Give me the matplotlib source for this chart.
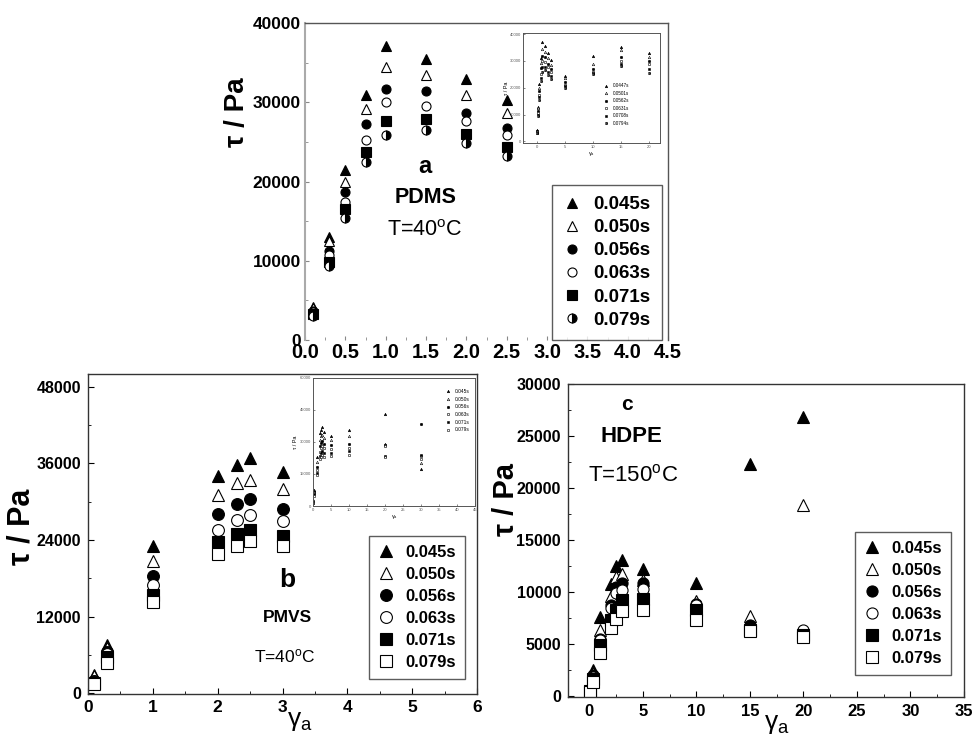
import matplotlib
matplotlib.use("Agg")
import matplotlib.pyplot as plt
from matplotlib.ticker import MultipleLocator, FixedLocator

plt.rcParams['font.family'] = ['Liberation Sans', 'DejaVu Sans']
plt.rcParams['mathtext.fontset'] = 'custom'
plt.rcParams['mathtext.rm'] = 'Liberation Sans'
plt.rcParams['mathtext.it'] = 'Liberation Sans:italic'
plt.rcParams['mathtext.bf'] = 'Liberation Sans:bold'

# ---------------- data ----------------
labels = ['0.045s', '0.050s', '0.056s', '0.063s', '0.071s', '0.079s']

# Panel a: PDMS, T=40C
a_x = [0.1, 0.3, 0.5, 0.75, 1.0, 1.5, 2.0, 2.5]
a_y = [
    [4200, 13000, 21500, 30900, 37100, 35500, 32900, 30300],
    [4000, 12500, 20000, 29100, 34400, 33500, 30900, 28600],
    [3700, 11250, 18700, 27200, 31700, 31400, 28700, 26800],
    [3500, 10700, 17400, 25200, 30050, 29500, 27600, 25850],
    [3300, 9900, 16500, 23750, 27650, 27850, 26050, 24350],
    [3000, 9400, 15350, 22400, 25900, 26550, 24800, 23250],
]
# inset of panel a (extra strain amplitudes)
a_in_x = [5, 10, 15, 20]
a_in_labels = ['0.0447s', '0.0501s', '0.0562s', '0.0631s', '0.0708s', '0.0794s']
a_in_y = [
    [24500, 32000, 35000, 33000],
    [23500, 29000, 34000, 31500],
    [22000, 27000, 31500, 30000],
    [21000, 26000, 30000, 29000],
    [20500, 25500, 29000, 27000],
    [20000, 25000, 28000, 25500],
]

# Panel b: PMVS, T=40C
b_x = [0.1, 0.3, 1, 2, 2.3, 2.5, 3]
b_y = [
    [2900, 7500, 23100, 34000, 35800, 36900, 34700],
    [2700, 7050, 20800, 31100, 32950, 33350, 32000],
    [2000, 6550, 18400, 28100, 29700, 30400, 28900],
    [1800, 6150, 17000, 25500, 27200, 28000, 27000],
    [1600, 5750, 15400, 23650, 24900, 25600, 24700],
    [1400, 4700, 14300, 21850, 23100, 23800, 23000],
]
b_in_x = [5, 10, 20, 30]
b_in_y = [
    [32700, 35400, 43000, 17300],
    [31000, 33000, 29000, 20200],
    [28400, 29200, 28800, 38600],
    [26500, 27000, 28000, 23600],
    [24900, 25700, 23300, 24100],
    [23300, 24100, 23000, 22000],
]

# Panel c: HDPE, T=150C
c_x = [0.1, 0.3, 1, 2, 2.5, 3, 5, 10, 15, 20]
c_y = [
    [700, 2500, 7600, 10800, 12500, 13100, 12200, 10900, 22300, 26850],
    [650, 2300, 6400, 9600, 11450, 11800, 11200, 9200, 7700, 18350],
    [600, 2050, 5550, 8750, 10500, 10850, 10850, 8900, 6850, 6200],
    [550, 1900, 5400, 8500, 9950, 10200, 10350, 8750, 6500, 6350],
    [500, 1700, 4900, 7350, 8350, 9250, 9400, 8350, 6400, 5900],
    [450, 1400, 4200, 6600, 7450, 8200, 8350, 7350, 6250, 5700],
]

# ---------------- styles ----------------
def style_list(last_half=False):
    st = [
        dict(marker='^', mfc='black', mec='black'),
        dict(marker='^', mfc='white', mec='black'),
        dict(marker='o', mfc='black', mec='black'),
        dict(marker='o', mfc='white', mec='black'),
        dict(marker='s', mfc='black', mec='black'),
    ]
    if last_half:
        st.append(dict(marker='o', mfc='black', mec='black', fillstyle='right',
                       markerfacecoloralt='white'))
    else:
        st.append(dict(marker='s', mfc='white', mec='black'))
    return st

SPC = '#333333'

def frame(ax, color=SPC, lw=1.0):
    for s in ax.spines.values():
        s.set_color(color)
        s.set_linewidth(lw)

fig = plt.figure(figsize=(9.73, 7.35), dpi=100)
W, H = 973.0, 735.0

def rect(l, t, r, b):
    return [l / W, 1 - b / H, (r - l) / W, (b - t) / H]

# ================= Panel a =================
ax = fig.add_axes(rect(305, 23, 668, 340))
for ys, lab, st in zip(a_y, labels, style_list(True)):
    ax.plot(a_x, ys, linestyle='none', ms=6.5, mew=0.8, label=lab, **st)
ax.set_xlim(0, 4.5)
ax.set_ylim(0, 40000)
ax.xaxis.set_major_locator(MultipleLocator(0.5))
ax.xaxis.set_minor_locator(MultipleLocator(0.25))
ax.yaxis.set_major_locator(MultipleLocator(10000))
ax.yaxis.set_minor_locator(MultipleLocator(5000))
ax.tick_params(which='both', direction='in', top=False, right=False, color='#888888')
ax.tick_params(which='major', length=3)
ax.tick_params(which='minor', length=2)
ax.tick_params(axis='y', labelsize=12.5, pad=3)
ax.tick_params(axis='x', labelsize=14.5, pad=2)
for t in ax.get_xticklabels() + ax.get_yticklabels():
    t.set_fontweight('bold')
frame(ax, '#555555')
ax.spines['left'].set_color('#aaaaaa')
ax.spines['left'].set_linewidth(1.5)
ax.spines['bottom'].set_visible(False)
fig.text(237 / W, 1 - 112 / H, 'τ / Pa', rotation=90, fontsize=20, fontweight='bold',
         ha='center', va='center')
ax.text(0.331, 0.546, 'a', transform=ax.transAxes, fontsize=17, fontweight='bold',
        ha='center', va='center')
ax.text(0.331, 0.448, 'PDMS', transform=ax.transAxes, fontsize=15.5, fontweight='bold',
        ha='center', va='center')
ax.text(0.331, 0.347, r'T=40$^\mathregular{o}$C', transform=ax.transAxes, fontsize=15.5,
        ha='center', va='center')
leg = ax.legend(loc='lower right', bbox_to_anchor=(0.983, 0.0),
                frameon=True, fancybox=False, edgecolor='#333333', borderpad=0.6,
                labelspacing=0.32, handletextpad=0.7, handlelength=0.9,
                borderaxespad=0, prop=dict(weight='bold', size=13.5))
leg.get_frame().set_linewidth(1.0)

# inset a
ia = fig.add_axes(rect(523, 33, 660, 143))
for ys, ye, lab, st in zip(a_y, a_in_y, a_in_labels, style_list(True)):
    ia.plot(a_x + a_in_x, ys + ye, linestyle='none', ms=1.8, mew=0.4, label=lab, **st)
ia.set_xlim(-2.4, 21.9)
ia.set_ylim(-600, 40400)
ia.xaxis.set_major_locator(FixedLocator([0, 5, 10, 15, 20]))
ia.yaxis.set_major_locator(MultipleLocator(10000))
ia.tick_params(direction='in', length=1.5, width=0.5, labelsize=3, pad=1.5,
               colors='#555555')
frame(ia, '#555555', 0.7)
ia.set_ylabel('τ / Pa', fontsize=4, labelpad=0.5)
ia.set_xlabel(r'γ$_\mathregular{a}$', fontsize=4, labelpad=0.5)
ia.legend(loc='upper left', bbox_to_anchor=(0.58, 0.56), fontsize=3.3, frameon=False,
          handlelength=0.8, labelspacing=0.55, handletextpad=1.0, borderaxespad=0)

# ================= Panel b =================
bx = fig.add_axes(rect(87.7, 374, 477.3, 694))
for ys, lab, st in zip(b_y, labels, style_list(False)):
    bx.plot(b_x, ys, linestyle='none', ms=8.5, mew=0.8, label=lab, **st)
bx.set_xlim(0, 6)
bx.set_ylim(-100, 50000)
bx.xaxis.set_major_locator(MultipleLocator(1))
bx.xaxis.set_minor_locator(MultipleLocator(0.5))
bx.yaxis.set_major_locator(MultipleLocator(12000))
bx.yaxis.set_minor_locator(MultipleLocator(6000))
bx.tick_params(which='both', direction='in', top=False, right=False)
bx.tick_params(which='major', length=4)
bx.tick_params(which='minor', length=2.5)
bx.tick_params(axis='y', labelsize=11.5, pad=5)
bx.tick_params(axis='x', labelsize=12.5, pad=4)
for t in bx.get_xticklabels() + bx.get_yticklabels():
    t.set_fontweight('bold')
frame(bx)
fig.text(21 / W, 1 - 527 / H, 'τ / Pa', rotation=90, fontsize=22, fontweight='bold',
         ha='center', va='center')
fig.text(300 / W, 1 - 721 / H, r'γ$_\mathregular{a}$', fontsize=19, ha='center', va='center')
bx.text(0.5115, 0.356, 'b', transform=bx.transAxes, fontsize=19, fontweight='bold',
        ha='center', va='center')
bx.text(0.5115, 0.2375, 'PMVS', transform=bx.transAxes, fontsize=12.5, fontweight='bold',
        ha='center', va='center')
bx.text(0.506, 0.119, r'T=40$^\mathregular{o}$C', transform=bx.transAxes, fontsize=12.5,
        ha='center', va='center')
leg = bx.legend(loc='lower right', bbox_to_anchor=(0.968, 0.047), frameon=True,
                fancybox=False, edgecolor='#333333', borderpad=0.55, labelspacing=0.42,
                handletextpad=0.7, handlelength=0.9, borderaxespad=0,
                prop=dict(weight='bold', size=12))
leg.get_frame().set_linewidth(1.0)

# inset b
ib = fig.add_axes(rect(313, 378, 475, 506))
for ys, ye, lab, st in zip(b_y, b_in_y, labels, style_list(False)):
    ib.plot(b_x + b_in_x, ys + ye, linestyle='none', ms=1.8, mew=0.4, label=lab, **st)
ib.set_xlim(0, 45)
ib.set_ylim(0, 60000)
ib.xaxis.set_major_locator(MultipleLocator(5))
ib.yaxis.set_major_locator(MultipleLocator(15000))
ib.tick_params(direction='in', length=1.5, width=0.5, labelsize=3, pad=1.5,
               colors='#555555')
frame(ib, '#555555', 0.7)
ib.set_ylabel('τ / Pa', fontsize=4, labelpad=1)
ib.set_xlabel(r'γ$_\mathregular{a}$', fontsize=4, labelpad=1)
ib.legend(loc='upper right', bbox_to_anchor=(0.98, 0.93), fontsize=3.5, frameon=False,
          handlelength=0.8, labelspacing=0.55, handletextpad=1.0, borderaxespad=0)

# ================= Panel c =================
cx = fig.add_axes(rect(568, 384, 964, 697))
for ys, lab, st in zip(c_y, labels, style_list(False)):
    cx.plot(c_x, ys, linestyle='none', ms=8, mew=0.8, label=lab, **st)
cx.set_xlim(-2, 35)
cx.set_ylim(-50, 30000)
cx.xaxis.set_major_locator(MultipleLocator(5))
cx.xaxis.set_minor_locator(MultipleLocator(2.5))
cx.yaxis.set_major_locator(MultipleLocator(5000))
cx.yaxis.set_minor_locator(MultipleLocator(2500))
cx.tick_params(which='both', direction='in', top=False, right=False)
cx.tick_params(which='major', length=4)
cx.tick_params(which='minor', length=2.5)
cx.tick_params(axis='y', labelsize=11.5, pad=5)
cx.tick_params(axis='x', labelsize=12, pad=5)
for t in cx.get_xticklabels() + cx.get_yticklabels():
    t.set_fontweight('bold')
frame(cx)
fig.text(506 / W, 1 - 500 / H, 'τ / Pa', rotation=90, fontsize=21, fontweight='bold',
         ha='center', va='center')
fig.text(777 / W, 1 - 724 / H, r'γ$_\mathregular{a}$', fontsize=19, ha='center', va='center')
cx.text(0.149, 0.933, 'c', transform=cx.transAxes, fontsize=15, fontweight='bold',
        ha='center', va='center')
cx.text(0.159, 0.831, 'HDPE', transform=cx.transAxes, fontsize=16, fontweight='bold',
        ha='center', va='center')
cx.text(0.164, 0.709, r'T=150$^\mathregular{o}$C', transform=cx.transAxes, fontsize=16,
        ha='center', va='center')
leg = cx.legend(loc='lower right', bbox_to_anchor=(0.967, 0.070), frameon=True,
                fancybox=False, edgecolor='#333333', borderpad=0.55, labelspacing=0.42,
                handletextpad=0.7, handlelength=0.9, borderaxespad=0,
                prop=dict(weight='bold', size=12))
leg.get_frame().set_linewidth(1.0)

fig.savefig('out.png', dpi=100)
